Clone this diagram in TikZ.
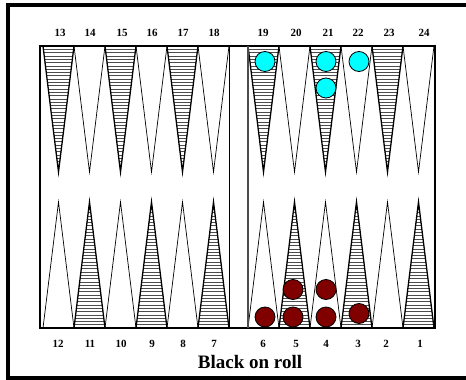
\documentclass[tikz,border=0pt]{standalone}
\usepackage{fontspec}
\setmainfont{Liberation Serif}
\definecolor{aqua}{RGB}{0,255,255}
\definecolor{maroon}{RGB}{128,0,0}
\begin{document}
\begin{tikzpicture}[x=1pt,y=-1pt,
  pointlabel/.style={font=\bfseries\fontsize{11}{11}\selectfont, inner sep=0pt},
  title/.style={font=\bfseries\fontsize{19}{19}\selectfont, inner sep=0pt},
  plaintri/.style={draw=black, line width=0.7pt, line join=miter},
  shadetri/.style={draw=black, line width=1.3pt, line join=miter},
  hatch/.style={draw=black!70, line width=0.55pt},
  white checker/.style={circle, draw=black, line width=0.8pt, fill=aqua, minimum size=20pt, inner sep=0pt},
  red checker/.style={circle, draw=black, line width=0.8pt, fill=maroon, minimum size=20pt, inner sep=0pt},
  frameline/.style={line width=4pt, draw=black},
  boardline/.style={line width=2pt, draw=black}
]
\useasboundingbox (0,0) rectangle (466,380);
\fill[white] (0,0) rectangle (466,380);
% outer frame (right side lies outside the picture)
\draw[frameline] (466,5) -- (8,5) -- (8,378) -- (466,378);

% triangles
\foreach \startx in {43, 248} {
  \foreach \i in {0,...,5} {
    \pgfmathsetmacro\lx{\startx+31*\i}
    \pgfmathsetmacro\tx{\lx+15.5}
    \pgfmathsetmacro\rx{\lx+31}
    \pgfmathtruncatemacro\odd{mod(\i,2)}
    % top
    \ifnum\odd=0
      \begin{scope}
        \clip (\lx,46) -- (\rx,46) -- (\tx,172) -- cycle;
        \foreach \k in {0,...,38} { \draw[hatch] (\lx,46+3.3*\k) -- (\rx,46+3.3*\k); }
      \end{scope}
      \draw[shadetri] (\lx,46) -- (\tx,172) -- (\rx,46);
    \else
      \draw[plaintri] (\lx,46) -- (\tx,172) -- (\rx,46);
    \fi
    % bottom
    \ifnum\odd=1
      \begin{scope}
        \clip (\lx,328) -- (\rx,328) -- (\tx,202) -- cycle;
        \foreach \k in {0,...,38} { \draw[hatch] (\lx,328-3.3*\k) -- (\rx,328-3.3*\k); }
      \end{scope}
      \draw[shadetri] (\lx,328) -- (\tx,202) -- (\rx,328);
    \else
      \draw[plaintri] (\lx,328) -- (\tx,202) -- (\rx,328);
    \fi
  }
}

% board
\draw[boardline] (40,46) -- (435,46);
\draw[line width=2.5pt] (40,328) -- (435,328);
\draw[boardline] (40,45) -- (40,329);
\draw[boardline] (435,45) -- (435,329);
\draw[line width=0.9pt] (229.3,46) -- (229.3,328);
\draw[line width=1.6pt, draw=black!70] (247.8,46) -- (247.8,328);

% top labels
\node[pointlabel] (n13) at (60,33) {13};
\node[pointlabel] (n14) at (90,33) {14};
\node[pointlabel] (n15) at (122,33) {15};
\node[pointlabel] (n16) at (152,33) {16};
\node[pointlabel] (n17) at (183,33) {17};
\node[pointlabel] (n18) at (214,33) {18};
\node[pointlabel] (n19) at (263,33) {19};
\node[pointlabel] (n20) at (296,33) {20};
\node[pointlabel] (n21) at (328,33) {21};
\node[pointlabel] (n22) at (358,33) {22};
\node[pointlabel] (n23) at (389,33) {23};
\node[pointlabel] (n24) at (424,33) {24};
% bottom labels
\node[pointlabel] (n12) at (58,344) {12};
\node[pointlabel] (n11) at (90,344) {11};
\node[pointlabel] (n10) at (121,344) {10};
\node[pointlabel] (n9) at (152,344) {9};
\node[pointlabel] (n8) at (183,344) {8};
\node[pointlabel] (n7) at (214,344) {7};
\node[pointlabel] (n6) at (263,344) {6};
\node[pointlabel] (n5) at (296,344) {5};
\node[pointlabel] (n4) at (326,344) {4};
\node[pointlabel] (n3) at (358,344) {3};
\node[pointlabel] (n2) at (386,344) {2};
\node[pointlabel] (n1) at (420,344) {1};

\node[title] (roll) at (250,362) {Black on roll};

% checkers
\node[white checker] (w1) at (265,61.5) {};
\node[white checker] (w2) at (326,61.5) {};
\node[white checker] (w3) at (326,88) {};
\node[white checker] (w4) at (359,61.5) {};
\node[red checker] (r1) at (265,317) {};
\node[red checker] (r2) at (293,317) {};
\node[red checker] (r3) at (293,289.5) {};
\node[red checker] (r4) at (326,317) {};
\node[red checker] (r5) at (326,289.5) {};
\node[red checker] (r6) at (359,313.5) {};
\end{tikzpicture}
\end{document}
